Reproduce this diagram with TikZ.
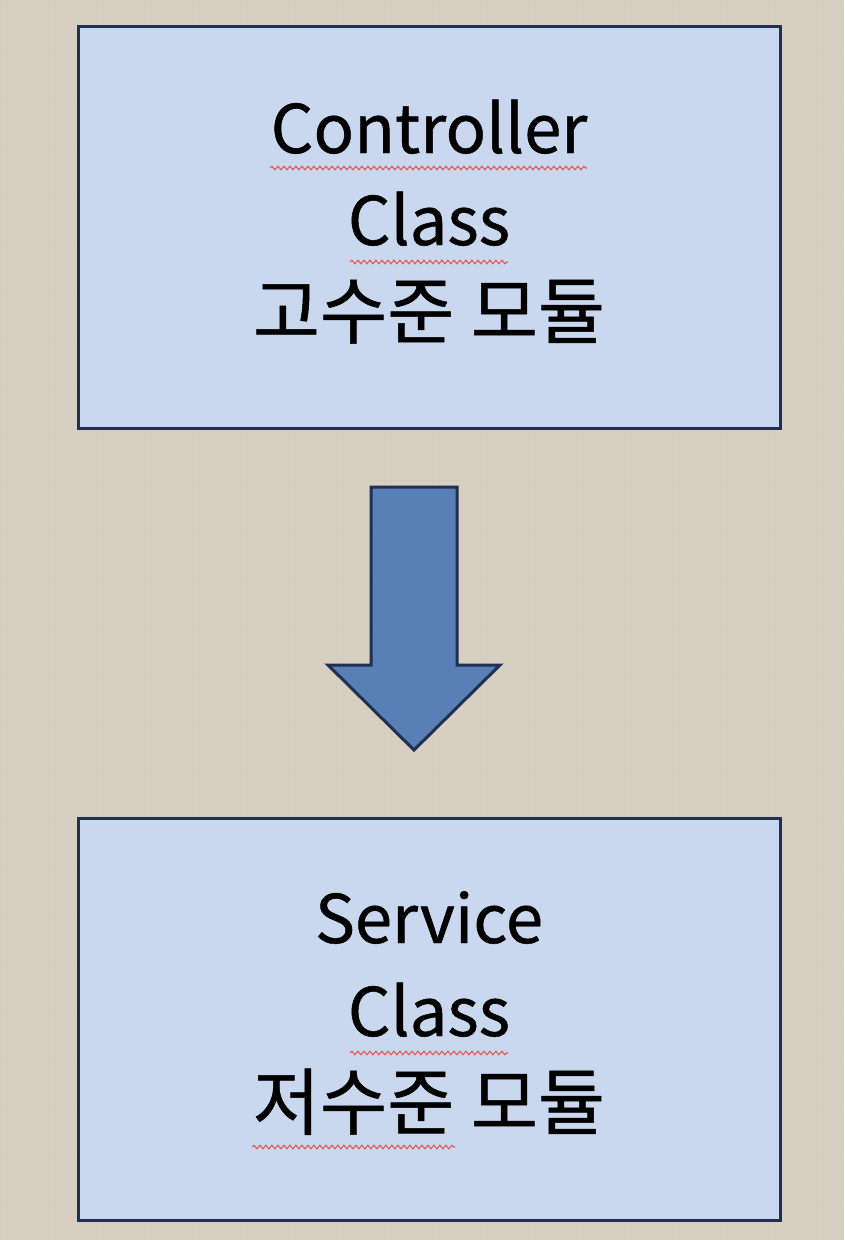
\documentclass[tikz,border=0pt]{standalone}
\usepackage{fontspec}
\setmainfont{Noto Sans CJK KR}
\newfontfamily\medfont{Noto Sans CJK KR}[FakeBold=0.7]
\usetikzlibrary{decorations.pathmorphing}
\definecolor{bgc}{HTML}{D7CFC1}
\definecolor{gridc}{HTML}{CEC5B5}
\definecolor{boxfill}{HTML}{C9D8EE}
\definecolor{boxline}{HTML}{1F3050}
\definecolor{arrowfill}{HTML}{5880B6}
\definecolor{squig}{HTML}{E8574F}
\tikzset{
  modbox/.style={draw=boxline, line width=3pt, fill=boxfill, rectangle, minimum width=702pt, minimum height=402pt, inner sep=0pt},
  modtext/.style={align=center, font=\medfont\fontsize{67}{92}\selectfont, inner sep=0pt, text=black},
  kortext/.style={modtext, font=\medfont\fontsize{73}{92}\selectfont},
  wavy/.style={draw=squig, line width=1.1pt, decorate, decoration={snake, segment length=6pt, amplitude=1.8pt}},
  blockarrow/.style={draw=boxline, line width=3pt, fill=arrowfill, line join=miter}
}
\begin{document}
\begin{tikzpicture}[x=1pt,y=-1pt]
\useasboundingbox (0,0) rectangle (844,1240);
\fill[bgc] (0,0) rectangle (844,1240);
\draw[gridc, line width=0.6pt, opacity=0.4, step=48pt] (0,0) grid (844,1240);

\node[modbox] (top) at (429,227) {};
\node[modbox] (bot) at (429,1019) {};

\node[modtext, anchor=base] (t1) at (429,153) {Controller};
\node[modtext, anchor=base] (t2) at (429,245) {Class};
\node[kortext, anchor=base] (t3) at (429,338) {고수준 모듈};

\node[modtext, anchor=base] (b1) at (429,943) {Service};
\node[modtext, anchor=base] (b2) at (429,1036) {Class};
\node[kortext, anchor=base] (b3) at (429,1129) {저수준 모듈};

\draw[wavy] (270,168) -- (587,168);
\draw[wavy] (350,262) -- (508,262);
\draw[wavy] (350,1053) -- (508,1053);
\draw[wavy] (252,1147) -- (455,1147);

\draw[blockarrow] (371,487) -- (457,487) -- (457,665) -- (500,665) -- (414,750) -- (328,665) -- (371,665) -- cycle;
\end{tikzpicture}
\end{document}
